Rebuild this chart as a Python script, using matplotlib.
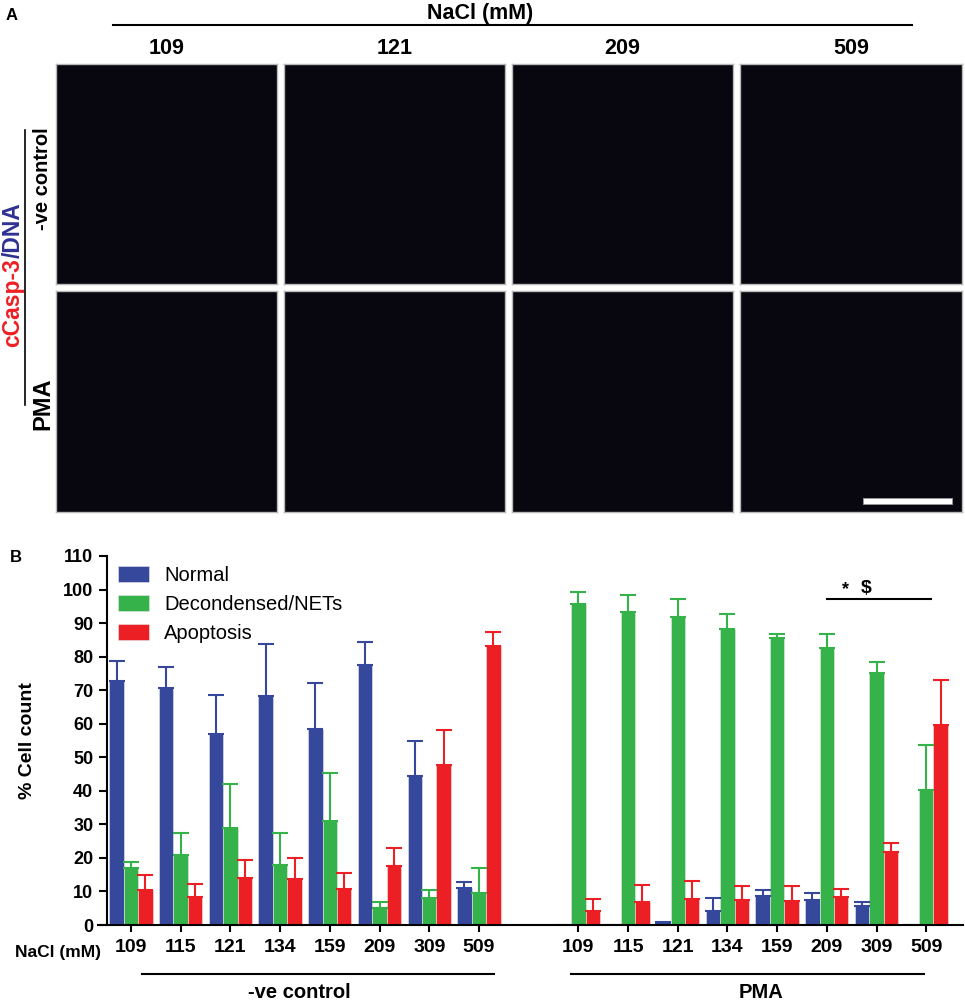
import numpy as np
import matplotlib
matplotlib.use("Agg")
import matplotlib.pyplot as plt
from matplotlib.patches import Patch, Rectangle
from matplotlib.transforms import blended_transform_factory

plt.rcParams['font.family'] = ['Liberation Sans', 'DejaVu Sans']
NARROW = ['Liberation Sans Narrow', 'Liberation Sans', 'DejaVu Sans']

# ---- data ----
nacl = ['109', '115', '121', '134', '159', '209', '309', '509']
image_nacl = ['109', '121', '209', '509']
image_rows = ['-ve control', 'PMA']

ctrl_normal = [72.6, 70.6, 56.9, 68.3, 58.3, 77.4, 44.3, 10.9]
ctrl_normal_sd = [6.2, 6.4, 11.8, 15.6, 13.8, 6.9, 10.7, 2.0]
ctrl_nets = [16.9, 20.9, 29.0, 18.0, 31.0, 5.2, 7.9, 9.6]
ctrl_nets_sd = [1.9, 6.5, 13.0, 9.3, 14.3, 1.8, 2.4, 7.5]
ctrl_apop = [10.5, 8.4, 14.1, 13.8, 10.8, 17.5, 47.8, 83.2]
ctrl_apop_sd = [4.4, 3.9, 5.4, 6.1, 4.6, 5.5, 10.2, 4.0]

pma_normal = [0, 0, 0.5, 4.2, 8.6, 7.5, 5.6, 0]
pma_normal_sd = [np.nan, np.nan, 0.3, 3.9, 1.9, 2.1, 1.4, np.nan]
pma_nets = [95.7, 93.3, 91.9, 88.3, 85.5, 82.6, 75.2, 40.3]
pma_nets_sd = [3.5, 5.0, 5.2, 4.5, 1.2, 4.1, 3.3, 13.3]
pma_apop = [4.3, 6.8, 7.7, 7.5, 7.3, 8.3, 21.7, 59.7]
pma_apop_sd = [3.4, 5.0, 5.3, 4.0, 4.3, 2.5, 2.6, 13.4]

series = ['Normal', 'Decondensed/NETs', 'Apoptosis']
colors = ['#35489b', '#35b34a', '#ec2024']

W, H = 965, 1000
fig = plt.figure(figsize=(W / 100, H / 100), dpi=100)


def px(x0, y0, x1, y1):
    # pixel box -> figure rect
    return [x0 / W, 1 - y1 / H, (x1 - x0) / W, (y1 - y0) / H]


# ---------------- panel A ----------------
fig.text(12 / W, 1 - 16 / H, 'A', fontsize=12, fontweight='bold', family=NARROW,
         ha='center', va='center')
fig.text(480 / W, 1 - 14 / H, 'NaCl (mM)', fontsize=15.5, fontweight='bold', family=NARROW,
         ha='center', va='center')
fig.add_artist(plt.Line2D([113 / W, 912 / W], [1 - 25 / H] * 2, color='black', lw=1.5))

col_x = [(56, 277), (284, 505), (512, 733), (740, 962)]
row_y = [(64, 284), (291, 512)]
for j, lab in enumerate(image_nacl):
    cx = (col_x[j][0] + col_x[j][1]) / 2
    fig.text(cx / W, 1 - 48 / H, lab, fontsize=15.5, fontweight='bold', family=NARROW,
             ha='center', va='center')
    for i in range(len(image_rows)):
        ia = fig.add_axes(px(col_x[j][0], row_y[i][0], col_x[j][1], row_y[i][1]))
        ia.set_facecolor('#08070f')
        ia.set_xticks([])
        ia.set_yticks([])
        for s in ia.spines.values():
            s.set_color('#b8b8b8')
            s.set_linewidth(1)
        if i == 1 and j == 3:
            ia.add_patch(Rectangle((0.555, 0.035), 0.4, 0.03, transform=ia.transAxes,
                                   facecolor='white', edgecolor='#999999', lw=0.6))

# row labels
fig.text(42 / W, 1 - 179 / H, image_rows[0], rotation=90, fontsize=14.5, fontweight='bold',
         ha='center', va='center')
fig.text(43 / W, 1 - 404 / H, image_rows[1], rotation=90, fontsize=17, fontweight='bold',
         ha='center', va='center')
fig.add_artist(plt.Line2D([25 / W] * 2, [1 - 130 / H, 1 - 405 / H], color='black', lw=1.2))
t1 = fig.text(13 / W, 1 - 347 / H, 'cCasp-3', rotation=90, fontsize=16.5, fontweight='bold',
              color='#ec2024', ha='center', va='bottom')
fig.canvas.draw()
bb = t1.get_window_extent().transformed(fig.transFigure.inverted())
fig.text(13 / W, bb.y1, '/DNA', rotation=90, fontsize=16.5, fontweight='bold',
         color='#2e3192', ha='center', va='bottom')

# ---------------- panel B ----------------
fig.text(10 / W, 1 - 558 / H, 'B', fontsize=12, fontweight='bold', ha='left', va='center')

ax = fig.add_axes(px(98, 556, 963, 925))
n = len(nacl)
x_ctrl = np.arange(n)
x_pma = np.arange(n) + n + 1
xs = np.concatenate([x_ctrl, x_pma])
bw = 0.29

groups = [
    (ctrl_normal + pma_normal, ctrl_normal_sd + pma_normal_sd),
    (ctrl_nets + pma_nets, ctrl_nets_sd + pma_nets_sd),
    (ctrl_apop + pma_apop, ctrl_apop_sd + pma_apop_sd),
]
for k, (vals, sds) in enumerate(groups):
    vals = np.array(vals, dtype=float)
    sds = np.array(sds, dtype=float)
    ax.bar(xs + (k - 1) * bw, vals, bw, color=colors[k], edgecolor='#e8e8e8', linewidth=0.4,
           yerr=[np.zeros_like(sds), sds], capsize=5.5,
           error_kw=dict(ecolor=colors[k], elinewidth=1.5, capthick=1.5), zorder=2)

ax.set_xlim(-0.664, 16.74)
ax.set_ylim(0, 110)
ax.spines['top'].set_visible(False)
ax.spines['right'].set_visible(False)
ax.spines['left'].set_position(('data', -0.48))
ax.spines['left'].set_linewidth(1.5)
ax.spines['bottom'].set_linewidth(1.5)
ax.set_yticks(np.arange(0, 111, 10))
ax.tick_params(axis='y', direction='out', length=6, width=1.5, labelsize=13, pad=4)
ax.tick_params(axis='x', direction='out', length=5, width=1.5, labelsize=14, pad=5)
ax.set_xticks(xs)
ax.set_xticklabels(nacl + nacl)
for lab in ax.get_xticklabels() + ax.get_yticklabels():
    lab.set_fontweight('bold')
ax.set_ylabel('% Cell count', fontsize=14, fontweight='bold', labelpad=6)
ax.yaxis.set_label_coords(-0.072, 0.5)

fig.text(58 / W, 1 - 952 / H, 'NaCl (mM)', fontsize=12.5, fontweight='bold',
         ha='center', va='center')

tr = blended_transform_factory(ax.transData, ax.transAxes)
ax.plot([0.22, 7.3], [-0.133, -0.133], color='black', lw=1.5, transform=tr, clip_on=False)
ax.plot([8.85, 15.96], [-0.133, -0.133], color='black', lw=1.5, transform=tr, clip_on=False)
ax.text(3.38, -0.182, image_rows[0], transform=tr, fontsize=14.5, fontweight='bold',
        ha='center', va='center')
ax.text(12.68, -0.182, image_rows[1], transform=tr, fontsize=14.5, fontweight='bold',
        ha='center', va='center')

# significance bar
ax.plot([14, 16.1], [97.1, 97.1], color='black', lw=1.5, clip_on=False)
ax.text(14.38, 97.6, '*', fontsize=13, fontweight='bold', ha='center', va='bottom')
ax.text(14.8, 97.8, r'\$', fontsize=14, fontweight='bold', ha='center', va='bottom')

handles = [Patch(facecolor=c, edgecolor='#e8e8e8', linewidth=0.4) for c in colors]
ax.legend(handles, series, loc='upper left', bbox_to_anchor=(118 / W, 1 - 566 / H),
          bbox_transform=fig.transFigure, frameon=False, fontsize=14.5,
          handlelength=1.55, handleheight=0.8, handletextpad=0.75, labelspacing=0.5,
          borderpad=0, borderaxespad=0)

fig.savefig('out.png', dpi=100)
